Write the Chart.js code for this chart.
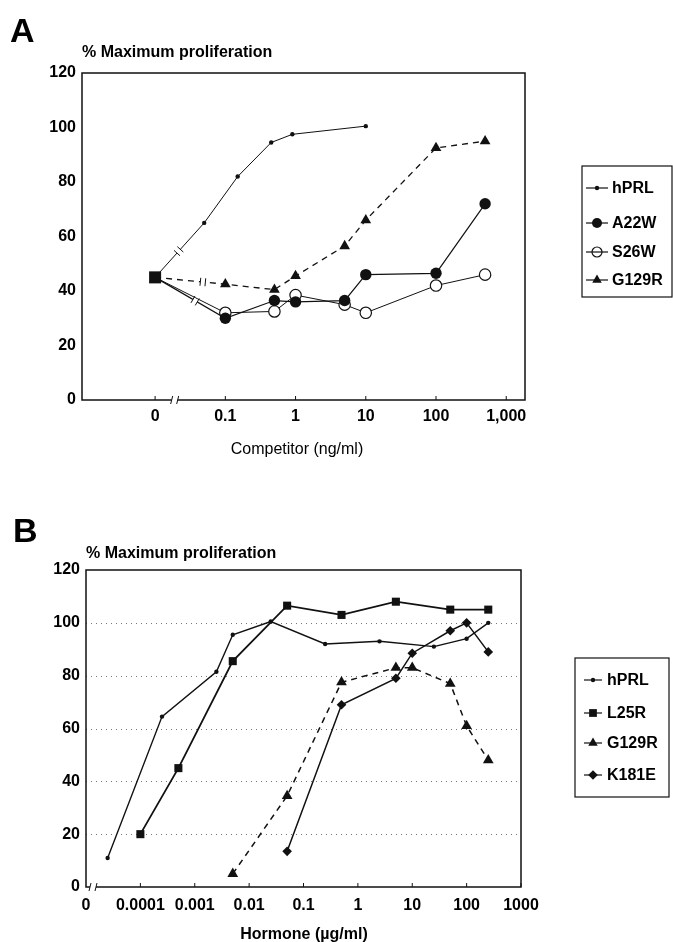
<!DOCTYPE html>
<html>
<head>
<meta charset="utf-8">
<script src="https://cdn.jsdelivr.net/npm/chart.js@4.4.0/dist/chart.umd.min.js"></script>
<style>
  body { margin: 0; background: #fff; width: 673px; height: 942px; overflow: hidden; position: relative; }
  #chartA { position: absolute; left: 0; top: 0; }
  #chartB { position: absolute; left: 0; top: 470px; }
</style>
</head>
<body>
<canvas id="chartA" width="673" height="470"></canvas>
<canvas id="chartB" width="673" height="472"></canvas>
<script>
// ---- panel A: competition (ng/ml), 0 = no competitor ----
const ZERO_A = 0.01;          // where "0" sits on the log axis (left of the break)
const controlA = 45;
const hprlDoseA = [0, 0.05, 0.15, 0.45, 0.9, 10];
const hprlA     = [45, 65, 82, 94.5, 97.5, 100.5];
const mutDoseA  = [0, 0.1, 0.5, 1, 5, 10, 100, 500];
const a22wA     = [45, 30, 36.5, 36, 36.5, 46, 46.5, 72];
const s26wA     = [45, 32, 32.5, 38.5, 35, 32, 42, 46];
const g129rA    = [45, 42.5, 40.5, 45.5, 56.5, 66, 92.5, 95];
const xTickValsA   = [ZERO_A, 0.1, 1, 10, 100, 1000];
const xTickLabelsA = ['0', '0.1', '1', '10', '100', '1,000'];

// ---- panel B: dose response (ug/ml) ----
const hprlDoseB  = [0.000025, 0.00025, 0.0025, 0.005, 0.025, 0.25, 2.5, 25, 100, 250];
const hprlB      = [11, 64.5, 81.5, 95.5, 100.5, 92, 93, 91, 94, 100];
const l25rDoseB  = [0.0001, 0.0005, 0.005, 0.05, 0.5, 5, 50, 250];
const l25rB      = [20, 45, 85.5, 106.5, 103, 108, 105, 105];
const g129rDoseB = [0.005, 0.05, 0.5, 5, 10, 50, 100, 250];
const g129rB     = [5, 34.5, 77.5, 83, 83, 77, 61, 48];
const k181eDoseB = [0.05, 0.5, 5, 10, 50, 100, 250];
const k181eB     = [13.5, 69, 79, 88.5, 97, 100, 89];
const xTickValsB   = [0.00001, 0.0001, 0.001, 0.01, 0.1, 1, 10, 100, 1000];
const xTickLabelsB = ['0', '0.0001', '0.001', '0.01', '0.1', '1', '10', '100', '1000'];

const yTicks = [0, 20, 40, 60, 80, 100, 120];

const FONT = '"Liberation Sans", Arial, Helvetica, sans-serif';
const INK = '#111';

function pts(xs, ys) {
  return xs.map((x, i) => ({ x: x === 0 ? ZERO_A : x, y: ys[i] }));
}
const hideFirst = r => c => (c.dataIndex === 0 ? 0 : r);

function marker(ctx, ds, x, y) {
  ctx.fillStyle = ds.legendFill || ds.pointBackgroundColor || INK;
  ctx.strokeStyle = ds.pointBorderColor || INK;
  ctx.lineWidth = ds.pointBorderWidth || 0;
  Chart.helpers.drawPoint(ctx, {
    pointStyle: ds.pointStyle, radius: ds.legendRadius,
    rotation: 0, borderWidth: ds.pointBorderWidth || 0
  }, x, y);
}

const decor = {
  id: 'decor',
  beforeDatasetsDraw(chart, args, o) {
    const { ctx, chartArea: a, scales } = chart;
    ctx.save();
    // dotted grid
    ctx.strokeStyle = '#777';
    ctx.lineWidth = 1;
    ctx.setLineDash([1, 4]);
    (o.grid || []).forEach(v => {
      const y = Math.round(scales.y.getPixelForValue(v)) + 0.5;
      ctx.beginPath(); ctx.moveTo(a.left, y); ctx.lineTo(a.right, y); ctx.stroke();
    });
    ctx.setLineDash([]);
    // frame
    ctx.strokeStyle = INK;
    ctx.lineWidth = 1.5;
    ctx.strokeRect(a.left, a.top, a.right - a.left, a.bottom - a.top);
    // small inner ticks on x axis
    ctx.lineWidth = 1;
    o.xTicks.forEach(v => {
      const x = scales.x.getPixelForValue(v);
      ctx.beginPath(); ctx.moveTo(x, a.bottom); ctx.lineTo(x, a.bottom - 4); ctx.stroke();
    });
    // axis break
    const bx = o.breakPx != null ? o.breakPx : scales.x.getPixelForValue(o.axisBreak);
    ctx.fillStyle = '#fff';
    ctx.fillRect(bx - 3, a.bottom - 2, 6, 4);
    ctx.beginPath();
    [bx - 3, bx + 3].forEach(x => { ctx.moveTo(x - 1, a.bottom + 4); ctx.lineTo(x + 1, a.bottom - 4); });
    ctx.stroke();
    ctx.restore();
  },
  afterDatasetsDraw(chart, args, o) {
    const ctx = chart.ctx;
    ctx.save();
    // break marks on the segment leaving the control point
    chart.data.datasets.forEach((ds, i) => {
      if (!ds.brk) return;
      const d = chart.getDatasetMeta(i).data;
      const dx = d[1].x - d[0].x, dy = d[1].y - d[0].y, len = Math.hypot(dx, dy);
      const ux = dx / len, uy = dy / len;
      const mx = d[0].x + dx * ds.brk, my = d[0].y + dy * ds.brk;
      ctx.strokeStyle = '#fff'; ctx.lineWidth = 4;
      ctx.beginPath(); ctx.moveTo(mx - ux * 2.5, my - uy * 2.5); ctx.lineTo(mx + ux * 2.5, my + uy * 2.5); ctx.stroke();
      ctx.strokeStyle = INK; ctx.lineWidth = 1;
      ctx.beginPath();
      [-2.5, 2.5].forEach(s => {
        const cx = mx + ux * s, cy = my + uy * s;
        ctx.moveTo(cx - uy * 4, cy + ux * 4); ctx.lineTo(cx + uy * 4, cy - ux * 4);
      });
      ctx.stroke();
    });
    ctx.restore();
  },
  afterDraw(chart, args, o) {
    const ctx = chart.ctx;
    ctx.save();
    ctx.fillStyle = '#000';
    ctx.textBaseline = 'alphabetic';
    ctx.textAlign = 'left';
    ctx.font = 'bold 34px ' + FONT;
    ctx.fillText(o.letter, o.letterX, o.letterY);
    ctx.font = 'bold 16px ' + FONT;
    ctx.fillText('% Maximum proliferation', chart.chartArea.left, o.titleY);
    ctx.textAlign = 'center';
    ctx.font = (o.xTitleBold ? 'bold ' : '') + '16px ' + FONT;
    ctx.fillText(o.xTitle, o.xTitleX, o.xTitleY);
    // legend box
    const L = o.legend;
    ctx.strokeStyle = INK; ctx.lineWidth = 1.2;
    ctx.strokeRect(L.x, L.y, L.w, L.h);
    let k = 0;
    chart.data.datasets.forEach(ds => {
      if (ds.noLegend) return;
      const y = L.rows[k++];
      ctx.strokeStyle = INK; ctx.lineWidth = 1.2;
      ctx.beginPath(); ctx.moveTo(L.mx - L.half, y); ctx.lineTo(L.mx + L.half, y); ctx.stroke();
      marker(ctx, ds, L.mx, y);
      ctx.fillStyle = '#000';
      ctx.font = 'bold 16px ' + FONT;
      ctx.textAlign = 'left';
      ctx.textBaseline = 'middle';
      ctx.fillText(ds.label, L.tx, y + 1);
    });
    ctx.restore();
  }
};

function axes(xMin, xMax, xVals, xLabels, yWidth, xHeight, xPad) {
  const tickFont = { family: FONT, size: 16, weight: 'bold' };
  return {
    x: {
      type: 'logarithmic', min: xMin, max: xMax,
      afterBuildTicks: s => { s.ticks = xVals.map(v => ({ value: v })); },
      afterFit: s => { s.height = xHeight; },
      grid: { display: false, drawTicks: false },
      border: { display: false },
      ticks: { autoSkip: false, maxRotation: 0, padding: xPad, color: '#000', font: tickFont,
               callback: (v, i) => xLabels[i] }
    },
    y: {
      min: 0, max: 120,
      afterBuildTicks: s => { s.ticks = yTicks.map(v => ({ value: v })); },
      afterFit: s => { s.width = yWidth; },
      grid: { display: false, drawTicks: false },
      border: { display: false },
      ticks: { padding: 6, color: '#000', font: tickFont }
    }
  };
}

const common = {
  responsive: false, animation: false, events: [],
  plugins: { legend: { display: false }, tooltip: { enabled: false } },
  elements: { line: { tension: 0 } }
};

new Chart(document.getElementById('chartA'), {
  type: 'line',
  data: {
    datasets: [
      { label: 'control', noLegend: true, data: [{ x: ZERO_A, y: controlA }], showLine: false,
        pointStyle: 'rect', pointRadius: 8.5, pointBackgroundColor: INK, pointBorderWidth: 0 },
      { label: 'hPRL', data: pts(hprlDoseA, hprlA), borderColor: INK, borderWidth: 1,
        pointStyle: 'circle', pointRadius: hideFirst(2.2), legendRadius: 2.2,
        pointBackgroundColor: INK, pointBorderWidth: 0, brk: 0.48 },
      { label: 'A22W', data: pts(mutDoseA, a22wA), borderColor: INK, borderWidth: 1.2,
        pointStyle: 'circle', pointRadius: hideFirst(5.7), legendRadius: 5,
        pointBackgroundColor: INK, pointBorderWidth: 0, brk: 0.57 },
      { label: 'S26W', data: pts(mutDoseA, s26wA), borderColor: INK, borderWidth: 1,
        pointStyle: 'circle', pointRadius: hideFirst(5.7), legendRadius: 5, legendFill: 'rgba(0,0,0,0)',
        pointBackgroundColor: '#fff', pointBorderColor: INK, pointBorderWidth: 1.2 },
      { label: 'G129R', data: pts(mutDoseA, g129rA), borderColor: INK, borderWidth: 1.3, borderDash: [6, 5],
        pointStyle: 'triangle', pointRadius: hideFirst(6.2), legendRadius: 5.5,
        pointBackgroundColor: INK, pointBorderWidth: 0, brk: 0.68 }
    ]
  },
  options: {
    ...common,
    layout: { padding: { left: 0, top: 73, right: 148, bottom: 0 } },
    scales: axes(0.00091, 1850, xTickValsA, xTickLabelsA, 82, 70, 7),
    plugins: {
      ...common.plugins,
      decor: {
        xTicks: xTickValsA, axisBreak: 0.019,
        letter: 'A', letterX: 10, letterY: 42, titleY: 57,
        xTitle: 'Competitor (ng/ml)', xTitleX: 297, xTitleY: 454, xTitleBold: false,
        legend: { x: 582, y: 166, w: 90, h: 131, rows: [188, 223, 252, 280], mx: 597, half: 11, tx: 612 }
      }
    }
  },
  plugins: [decor]
});

new Chart(document.getElementById('chartB'), {
  type: 'line',
  data: {
    datasets: [
      { label: 'hPRL', data: pts(hprlDoseB, hprlB), borderColor: INK, borderWidth: 1.4,
        pointStyle: 'circle', pointRadius: 2.2, legendRadius: 2.2,
        pointBackgroundColor: INK, pointBorderWidth: 0 },
      { label: 'L25R', data: pts(l25rDoseB, l25rB), borderColor: INK, borderWidth: 1.8,
        pointStyle: 'rect', pointRadius: 5.7, legendRadius: 5.5,
        pointBackgroundColor: INK, pointBorderWidth: 0 },
      { label: 'G129R', data: pts(g129rDoseB, g129rB), borderColor: INK, borderWidth: 1.5, borderDash: [6, 5],
        pointStyle: 'triangle', pointRadius: 6.2, legendRadius: 5.5,
        pointBackgroundColor: INK, pointBorderWidth: 0 },
      { label: 'K181E', data: pts(k181eDoseB, k181eB), borderColor: INK, borderWidth: 1.5,
        pointStyle: 'rectRot', pointRadius: 4.8, legendRadius: 4.8,
        pointBackgroundColor: INK, pointBorderWidth: 0 }
    ]
  },
  options: {
    ...common,
    layout: { padding: { left: 0, top: 100, right: 152, bottom: 0 } },
    scales: axes(0.00001, 1000, xTickValsB, xTickLabelsB, 86, 55, 9),
    plugins: {
      ...common.plugins,
      decor: {
        grid: [20, 40, 60, 80, 100], xTicks: xTickValsB.slice(1), breakPx: 93,
        letter: 'B', letterX: 13, letterY: 72, titleY: 88,
        xTitle: 'Hormone (\u00b5g/ml)', xTitleX: 304, xTitleY: 469, xTitleBold: true,
        legend: { x: 575, y: 188, w: 94, h: 139, rows: [210, 243, 273, 305], mx: 593, half: 9, tx: 607 }
      }
    }
  },
  plugins: [decor]
});
</script>
</body>
</html>
